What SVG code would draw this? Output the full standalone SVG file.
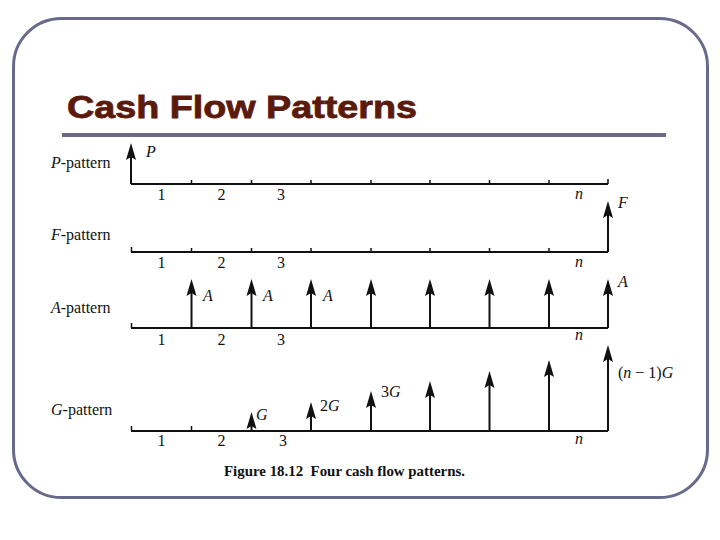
<svg xmlns="http://www.w3.org/2000/svg" width="720" height="540" viewBox="0 0 720 540">
<style>
.frame{fill:none;stroke:#69698c;stroke-width:3}
.bar{fill:#69698c}
.title{font-family:"Liberation Sans",Arial,sans-serif;font-weight:bold;font-size:31px;fill:#5a1a0c;stroke:#5a1a0c;stroke-width:0.8}
.lbl{font-family:"Liberation Serif","Times New Roman",serif;font-size:16px;fill:#111}
.it{font-style:italic}
.num{font-family:"Liberation Serif","Times New Roman",serif;font-size:16px;fill:#111;text-anchor:middle}
.axis{fill:none;stroke:#111;stroke-width:2}
.tick{fill:none;stroke:#111;stroke-width:1.5}
.arr{fill:none;stroke:#111;stroke-width:2;marker-end:url(#ah)}
.cap{font-family:"Liberation Serif","Times New Roman",serif;font-weight:bold;font-size:14.5px;fill:#111;white-space:pre}
</style>
<defs>
<marker id="ah" markerUnits="userSpaceOnUse" markerWidth="22" markerHeight="14" viewBox="0 -7 20 14" refX="7" refY="0" orient="auto">
<path d="M17,0 L0,-5 L3,0 L0,5 Z" fill="#111"/>
</marker>
</defs>
<rect width="720" height="540" fill="#fff"/>
<rect class="frame" x="13.5" y="18.5" width="694" height="479" rx="48" ry="48"/>
<g id="title">
<text class="title" x="67" y="118" textLength="350" lengthAdjust="spacingAndGlyphs">Cash Flow Patterns</text>
<rect class="bar" x="62" y="133" width="604" height="4"/>
</g>
<g id="p-pattern">
<text class="lbl" x="51" y="168"><tspan class="it">P</tspan>-pattern</text>
<path class="axis" d="M131,184 H608"/>
<path class="tick" d="M191.5,184 v-4 M251.5,184 v-4 M311,184 v-4 M371,184 v-4 M430,184 v-4 M489.5,184 v-4 M549,184 v-4 M608,184 v-5"/>
<text class="num" x="161.5" y="200">1</text>
<text class="num" x="221.5" y="200">2</text>
<text class="num" x="281" y="200">3</text>
<text class="num it" x="579" y="199">n</text>
<text class="lbl it" x="146" y="157">P</text>
</g>
<g id="f-pattern">
<text class="lbl" x="51" y="240"><tspan class="it">F</tspan>-pattern</text>
<path class="axis" d="M131,252 H608"/>
<path class="tick" d="M131.5,252 v-5 M191.5,252 v-4 M251.5,252 v-4 M311,252 v-4 M371,252 v-4 M430,252 v-4 M489.5,252 v-4 M549,252 v-4"/>
<text class="num" x="161.5" y="268">1</text>
<text class="num" x="221.5" y="268">2</text>
<text class="num" x="281" y="268">3</text>
<text class="num it" x="579" y="267">n</text>
<text class="lbl it" x="618" y="208">F</text>
</g>
<g id="a-pattern">
<text class="lbl" x="51" y="313"><tspan class="it">A</tspan>-pattern</text>
<path class="axis" d="M131,328 H608"/>
<path class="tick" d="M131.5,328 v-5"/>
<text class="num" x="161.5" y="345">1</text>
<text class="num" x="221.5" y="345">2</text>
<text class="num" x="281" y="345">3</text>
<text class="num it" x="579" y="340">n</text>
<text class="lbl it" x="203" y="301">A</text>
<text class="lbl it" x="263" y="301">A</text>
<text class="lbl it" x="323" y="301">A</text>
<text class="lbl it" x="618" y="287">A</text>
</g>
<g id="g-pattern">
<text class="lbl" x="51" y="415"><tspan class="it">G</tspan>-pattern</text>
<path class="axis" d="M131,431 H608"/>
<path class="tick" d="M131.5,431 v-5 M191.5,431 v-5"/>
<text class="num" x="161.5" y="446">1</text>
<text class="num" x="221.5" y="446">2</text>
<text class="num" x="283" y="446">3</text>
<text class="num it" x="579" y="444">n</text>
<text class="lbl it" x="256" y="420">G</text>
<text class="lbl" x="320" y="411">2<tspan class="it">G</tspan></text>
<text class="lbl" x="381" y="397">3<tspan class="it">G</tspan></text>
<text class="lbl" x="618" y="378">(<tspan class="it">n</tspan> − 1)<tspan class="it">G</tspan></text>
</g>
<g id="connectors">
<path class="arr" d="M131,184 V153"/>
<path class="arr" d="M608,252 V211"/>
<path class="arr" d="M191.5,328 V289"/>
<path class="arr" d="M251.5,328 V289"/>
<path class="arr" d="M311,328 V289"/>
<path class="arr" d="M371,328 V289"/>
<path class="arr" d="M430,328 V289"/>
<path class="arr" d="M489.5,328 V289"/>
<path class="arr" d="M549,328 V289"/>
<path class="arr" d="M608,328 V289"/>
<path class="arr" d="M251.5,431 V422"/>
<path class="arr" d="M311,431 V412"/>
<path class="arr" d="M371,431 V401"/>
<path class="arr" d="M430,431 V391"/>
<path class="arr" d="M489.5,431 V381"/>
<path class="arr" d="M549,431 V370"/>
<path class="arr" d="M608,431 V355"/>
</g>
<text class="cap" x="224" y="476" textLength="241" lengthAdjust="spacingAndGlyphs">Figure 18.12  Four cash flow patterns.</text>
</svg>
